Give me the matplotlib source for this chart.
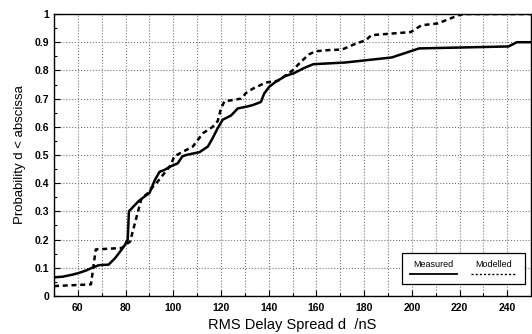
import matplotlib.pyplot as plt
from matplotlib.patches import Rectangle
from matplotlib.lines import Line2D
from matplotlib.ticker import MultipleLocator

# Measured CDF (delay in nS, probability)
meas_x = [50, 53.5, 58, 60.6, 63.4, 66, 68.8, 72.9, 75.7, 78.4, 79.8, 80.9, 81.4,
          82.5, 85.3, 88, 90, 92.2, 94.2, 96.3, 99, 101.8, 103.8, 105.4, 111,
          114.5, 116.5, 118.6, 120.7, 124.2, 127, 131, 133.3, 136.7, 138.1, 140.2,
          143, 147, 150.5, 155.2, 158.7, 172, 191.6, 203, 240.5, 244, 250]
meas_y = [0.066, 0.068, 0.076, 0.082, 0.09, 0.1, 0.109, 0.111, 0.135, 0.165, 0.182,
          0.2, 0.3, 0.31, 0.335, 0.353, 0.365, 0.41, 0.44, 0.447, 0.46, 0.47,
          0.495, 0.5, 0.51, 0.53, 0.56, 0.595, 0.625, 0.64, 0.665, 0.672, 0.677,
          0.688, 0.718, 0.742, 0.76, 0.78, 0.79, 0.81, 0.822, 0.828, 0.846, 0.878,
          0.885, 0.9, 0.9]

# Modelled CDF
mod_x = [50, 65.5, 67.5, 78.4, 79.8, 81.9, 84.6, 86.7, 89.4, 91.5, 93.5, 96.3, 99,
         100.4, 103, 108.2, 112.4, 116.5, 118.6, 120, 121.4, 128.4, 130.5, 133.3,
         138.8, 143.8, 150, 153.4, 156.9, 159.6, 165, 170.7, 176.5, 180.7, 183,
         199.5, 204, 211, 219.6, 221.7, 250]
mod_y = [0.035, 0.041, 0.165, 0.17, 0.18, 0.193, 0.28, 0.347, 0.365, 0.388, 0.406,
         0.436, 0.465, 0.495, 0.507, 0.53, 0.577, 0.60, 0.62, 0.665, 0.69, 0.70,
         0.72, 0.735, 0.757, 0.763, 0.80, 0.83, 0.857, 0.868, 0.872, 0.874, 0.895,
         0.907, 0.925, 0.936, 0.96, 0.967, 0.996, 1.0, 1.0]

plt.rcParams['font.family'] = ['Liberation Sans', 'DejaVu Sans']

fig = plt.figure(figsize=(5.32, 3.34), dpi=100)
ax = fig.add_axes([0.1015, 0.114, 0.897, 0.844])

ax.plot(meas_x, meas_y, color='black', lw=1.8, solid_joinstyle='round')
ax.plot(mod_x, mod_y, color='black', lw=1.8, ls=(0, (2.0, 1.5)))

ax.set_xlim(50, 250)
ax.set_ylim(0, 1)
ax.xaxis.set_major_locator(MultipleLocator(20))
ax.xaxis.set_minor_locator(MultipleLocator(10))
ax.yaxis.set_major_locator(MultipleLocator(0.1))
ax.yaxis.set_minor_locator(MultipleLocator(0.05))
ax.set_yticks(ax.get_yticks())
ax.set_yticklabels(['0' if abs(v) < 1e-9 else ('1' if abs(v - 1) < 1e-9 else f'{v:.1f}')
                    for v in ax.get_yticks()])
ax.set_ylim(0, 1)
ax.tick_params(which='both', direction='in', labelsize=7.5, width=0.8)
ax.tick_params(which='major', length=4)
ax.tick_params(which='minor', length=2)
ax.tick_params(axis='x', pad=5)
for lbl in ax.get_xticklabels() + ax.get_yticklabels():
    lbl.set_fontweight('bold')

ax.grid(True, which='major', color='#777777', ls=':', lw=0.8)
ax.grid(True, which='minor', axis='x', color='#777777', ls=':', lw=0.8)

for s in ax.spines.values():
    s.set_linewidth(1.0)

ax.set_xlabel('RMS Delay Spread d  /nS', fontsize=10.5, labelpad=4)
ax.set_ylabel('Probability d < abscissa', fontsize=9.5, labelpad=6)

# legend box drawn by hand: text over line
ax.add_patch(Rectangle((0.730, 0.043), 0.257, 0.109, transform=ax.transAxes,
                       facecolor='white', edgecolor='black', lw=0.9, zorder=5))
ax.text(0.796, 0.113, 'Measured', transform=ax.transAxes, ha='center', va='center',
        fontsize=6.5, zorder=6)
ax.text(0.921, 0.113, 'Modelled', transform=ax.transAxes, ha='center', va='center',
        fontsize=6.5, zorder=6)
ax.add_line(Line2D([0.747, 0.845], [0.078, 0.078], transform=ax.transAxes,
                   color='black', lw=1.3, zorder=6))
ax.add_line(Line2D([0.874, 0.969], [0.078, 0.078], transform=ax.transAxes,
                   color='black', lw=1.0, ls=(0, (1.5, 1.5)), zorder=6))

fig.savefig('out.png', dpi=100)
